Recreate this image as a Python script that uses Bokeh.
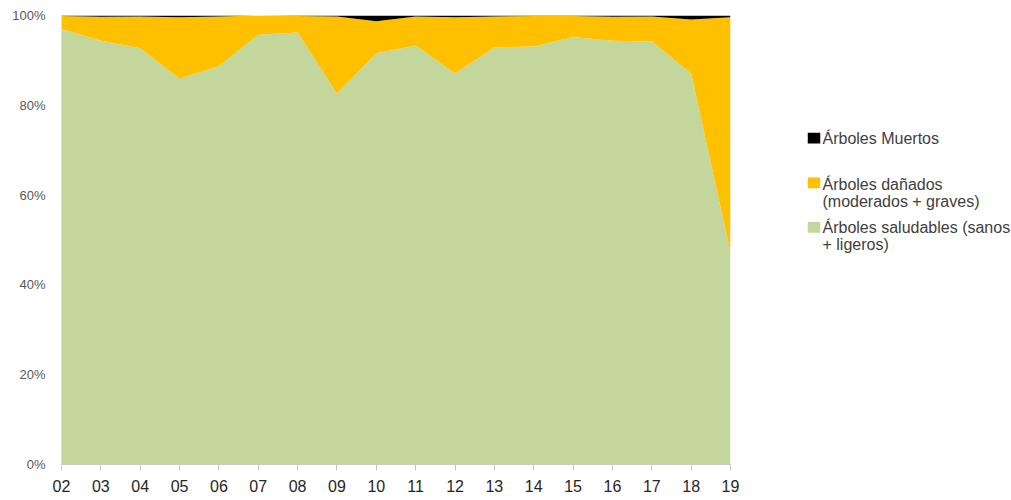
from bokeh.plotting import figure
from bokeh.models import ColumnDataSource, Range1d, FixedTicker, PrintfTickFormatter
from bokeh.layouts import row
from bokeh.embed import file_html
from bokeh.resources import INLINE
from bokeh.core.properties import value

years = ["02", "03", "04", "05", "06", "07", "08", "09", "10", "11",
         "12", "13", "14", "15", "16", "17", "18", "19"]
healthy = [97.0, 94.4, 92.7, 85.9, 88.7, 95.7, 96.2, 82.6, 91.6, 93.3,
           87.1, 92.9, 93.1, 95.2, 94.4, 94.2, 87.1, 47.2]
dead = [0.1, 0.3, 0.2, 0.4, 0.2, 0.0, 0.1, 0.2, 1.3, 0.2,
        0.4, 0.2, 0.1, 0.1, 0.3, 0.2, 0.9, 0.4]
damaged = [round(100 - h - d, 1) for h, d in zip(healthy, dead)]

colors = ["#C3D69B", "#FFC000", "#000000"]

FONT = "Liberation Sans"

x = list(range(len(years)))
src = ColumnDataSource(dict(x=x, healthy=healthy, damaged=damaged, dead=dead))

p = figure(width=740, height=500, output_backend="svg", toolbar_location=None,
           x_range=Range1d(0, len(years) - 1), y_range=Range1d(0, 100),
           min_border_left=61, min_border_right=10, min_border_top=15,
           min_border_bottom=36)
p.varea_stack(["healthy", "damaged", "dead"], x="x", source=src, color=colors)

p.outline_line_color = None
p.xgrid.visible = False
p.ygrid.visible = False
p.background_fill_color = "white"
p.border_fill_color = "white"

p.xaxis.ticker = FixedTicker(ticks=x)
p.xaxis.major_label_overrides = {i: y for i, y in enumerate(years)}
p.xaxis.axis_line_color = "#c8c8c8"
p.xaxis.major_tick_line_color = "#c8c8c8"
p.xaxis.major_tick_out = 6
p.xaxis.major_tick_in = 0
p.xaxis.minor_tick_line_color = None
p.xaxis.major_label_standoff = 9
p.xaxis.major_label_text_font = FONT
p.xaxis.major_label_text_font_size = "16px"
p.xaxis.major_label_text_color = "#262626"

p.yaxis.ticker = FixedTicker(ticks=[0, 20, 40, 60, 80, 100])
p.yaxis.formatter = PrintfTickFormatter(format="%d%%")
p.yaxis.axis_line_color = "#e0e0e0"
p.yaxis.major_tick_line_color = None
p.yaxis.minor_tick_line_color = None
p.yaxis.major_tick_out = 0
p.yaxis.major_tick_in = 0
p.yaxis.major_label_standoff = 16
p.yaxis.major_label_text_font = FONT
p.yaxis.major_label_text_font_size = "13px"
p.yaxis.major_label_text_color = "#595959"

# Legend panel
lg = figure(width=271, height=500, output_backend="svg", toolbar_location=None,
            x_range=Range1d(0, 271), y_range=Range1d(500, 0),
            min_border=0, min_border_left=0, min_border_right=0,
            min_border_top=0, min_border_bottom=0)
lg.axis.visible = False
lg.grid.visible = False
lg.outline_line_color = None
lg.border_fill_color = "white"

legend_lines = [
    ["Árboles Muertos"],
    ["Árboles dañados", "(moderados + graves)"],
    ["Árboles saludables (sanos", "+ ligeros)"],
]
legend_colors = [colors[2], colors[1], colors[0]]
text_y = [137, 188, 236]
square_y = [136.5, 186.5, 236]
line_h = 19
lg.rect(x=[73.5] * 3, y=square_y, width=12.5, height=12, fill_color=legend_colors,
        line_color=None)
tx, ty, tt = [], [], []
for yy, lines in zip(text_y, legend_lines):
    for j, t in enumerate(lines):
        tx.append(82)
        ty.append(yy + j * line_h)
        tt.append(t)
lg.text(x=tx, y=ty, text=tt, text_font=value(FONT), text_font_size="16px",
        text_color="#404040", text_baseline="middle", text_align="left")

layout = row(p, lg, spacing=0)
open("out.html", "w").write(file_html(layout, INLINE))
